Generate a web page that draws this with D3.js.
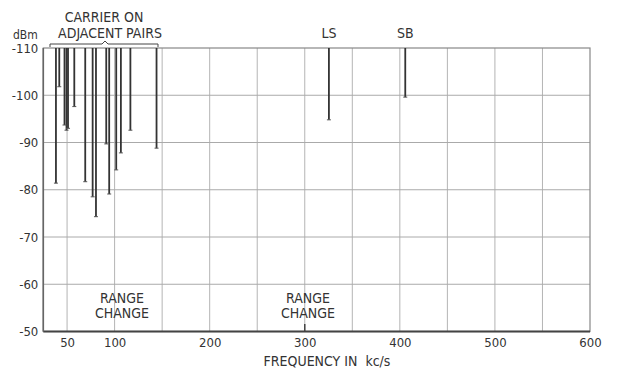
<!DOCTYPE html>
<html lang="en">
	<head>
		<meta charset="utf-8">
		<title>Crosstalk spectrum</title>
		<script src="https://cdn.jsdelivr.net/npm/d3@7"></script>
		<style>
			body { margin: 0; background: #fff; }
			text { font-family: "DejaVu Sans Condensed", "DejaVu Sans", sans-serif; fill: #333; }
		</style>
	</head>
	<body>
		<script>

			//Width and height
			var w = 618;
			var h = 369;

			// spikes: frequency (kc/s) and level they reach (dBm)
			var freqs  = [38.3, 41.8, 47.3, 49.4, 51, 57.6, 69.1, 76.9, 80.4, 91.2, 94.3, 101.7, 106.6, 116.6, 144.1, 325.4, 405.7];
			var levels = [-81.4, -101.8, -93.7, -92.6, -93, -97.6, -81.7, -78.5, -74.3, -89.7, -79.1, -84.2, -87.8, -92.6, -88.8, -94.8, -99.6];

			var xTicks = [50, 100, 200, 300, 400, 500, 600];
			var xGrid = [50, 100, 150, 200, 250, 300, 350, 400, 450, 500, 550];
			var yTicks = [-110, -100, -90, -80, -70, -60, -50];

			var xScale = d3.scaleLinear().domain([25, 600]).range([43.3, 590]);
			var yScale = d3.scaleLinear().domain([-110, -50]).range([48, 331.5]);

			var svg = d3.select("body").append("svg")
				.attr("width", w)
				.attr("height", h);

			//grid
			svg.append("g").selectAll("line")
				.data(xGrid)
				.enter().append("line")
				.attr("x1", d => xScale(d)).attr("x2", d => xScale(d))
				.attr("y1", yScale(-110)).attr("y2", yScale(-50))
				.attr("stroke", "#b4b4b4").attr("stroke-width", 1);

			svg.append("g").selectAll("line")
				.data(yTicks.slice(1, -1))
				.enter().append("line")
				.attr("x1", xScale(25)).attr("x2", xScale(600))
				.attr("y1", d => yScale(d)).attr("y2", d => yScale(d))
				.attr("stroke", "#aaa").attr("stroke-width", 1);

			//frame
			svg.append("rect")
				.attr("x", xScale(25)).attr("y", yScale(-110))
				.attr("width", xScale(600) - xScale(25))
				.attr("height", yScale(-50) - yScale(-110))
				.attr("fill", "none").attr("stroke", "#888").attr("stroke-width", 1.2);
			svg.append("line")
				.attr("x1", xScale(25)).attr("x2", xScale(600))
				.attr("y1", yScale(-50)).attr("y2", yScale(-50))
				.attr("stroke", "#444").attr("stroke-width", 1.8);
			svg.append("line")
				.attr("x1", xScale(25)).attr("x2", xScale(25))
				.attr("y1", yScale(-110)).attr("y2", yScale(-50))
				.attr("stroke", "#666").attr("stroke-width", 1.6);

			//spikes
			var idx = d3.range(freqs.length);
			svg.append("g").selectAll("line")
				.data(idx)
				.enter().append("line")
				.attr("x1", i => xScale(freqs[i])).attr("x2", i => xScale(freqs[i]))
				.attr("y1", yScale(-110)).attr("y2", i => yScale(levels[i]))
				.attr("stroke", "#333").attr("stroke-width", 1.8);
			svg.append("g").selectAll("line")
				.data(idx)
				.enter().append("line")
				.attr("x1", i => xScale(freqs[i]) - 2).attr("x2", i => xScale(freqs[i]) + 2)
				.attr("y1", i => yScale(levels[i])).attr("y2", i => yScale(levels[i]))
				.attr("stroke", "#555").attr("stroke-width", 1);

			//axes (labels only)
			var xAxis = d3.axisBottom(xScale).tickValues(xTicks).tickSize(0).tickPadding(6);
			var yAxis = d3.axisLeft(yScale).tickValues(yTicks).tickSize(0).tickPadding(5)
				.tickFormat(d => "-" + Math.abs(d));

			var gx = svg.append("g")
				.attr("transform", "translate(0," + yScale(-50) + ")")
				.call(xAxis);
			var gy = svg.append("g")
				.attr("transform", "translate(" + xScale(25) + ",0)")
				.call(yAxis);
			[gx, gy].forEach(g => {
				g.select(".domain").remove();
				g.selectAll("text")
					.attr("font-family", null)
					.style("font-size", "13px")
					.attr("fill", "#333");
			});

			//labels
			svg.append("text").attr("x", 13).attr("y", 39)
				.style("font-size", "12px").text("dBm");

			svg.append("text").attr("x", 327).attr("y", 366)
				.attr("text-anchor", "middle").style("font-size", "14px")
				.style("white-space", "pre").text("FREQUENCY IN  kc/s");

			svg.append("text").attr("x", 104).attr("y", 22)
				.attr("text-anchor", "middle").style("font-size", "14px").text("CARRIER ON");
			svg.append("text").attr("x", 110).attr("y", 38)
				.attr("text-anchor", "middle").style("font-size", "14px").text("ADJACENT PAIRS");

			svg.append("path")
				.attr("d", "M50,47 V44 H102 L105,41 L108,44 H158 V47")
				.attr("fill", "none").attr("stroke", "#444").attr("stroke-width", 1);

			svg.append("text").attr("x", xScale(325.4)).attr("y", 38)
				.attr("text-anchor", "middle").style("font-size", "14px").text("LS");
			svg.append("text").attr("x", xScale(405.7)).attr("y", 38)
				.attr("text-anchor", "middle").style("font-size", "14px").text("SB");

			[[122, 303], [308, 303]].forEach(p => {
				svg.append("text").attr("x", p[0]).attr("y", p[1])
					.attr("text-anchor", "middle").style("font-size", "14px").text("RANGE");
				svg.append("text").attr("x", p[0]).attr("y", p[1] + 15)
					.attr("text-anchor", "middle").style("font-size", "14px").text("CHANGE");
			});
			svg.append("line")
				.attr("x1", xScale(300)).attr("x2", xScale(300))
				.attr("y1", 324).attr("y2", yScale(-50))
				.attr("stroke", "#444").attr("stroke-width", 1.5);

		</script>
	</body>
</html>
